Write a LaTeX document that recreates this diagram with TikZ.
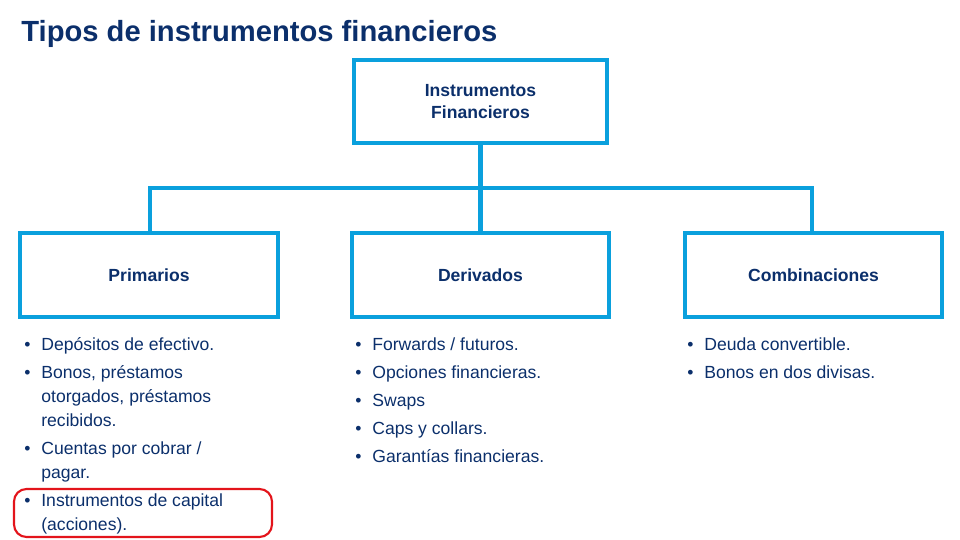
\documentclass[tikz,border=0pt]{standalone}
\usepackage{fontspec}
\setmainfont{Liberation Sans}
\usepackage{xcolor}
\definecolor{tiposDark}{HTML}{0B2F6B}
\definecolor{tiposCyan}{HTML}{0AA0DD}
\definecolor{tiposText}{HTML}{0B2F6B}
\definecolor{tiposRed}{HTML}{E3141B}
\usetikzlibrary{positioning}
\tikzset{
    box/.style={
        draw=tiposCyan,
        line width=2.3pt,
        fill=white,
        rectangle,
        align=center,
        font=\fontsize{10pt}{12.5pt}\selectfont\bfseries,
        text=tiposText
    },
    link/.style={
        draw=tiposCyan,
        line width=2.3pt
    },
    item/.style={
        anchor=base west,
        inner sep=0pt,
        font=\fontsize{10pt}{13.6pt}\selectfont,
        text=tiposText
    }
}
\newcommand{\bul}[3]{% name, x, y (first line)
    \node[item] (#1b) at (#2-0.34,#3) {•};}
\begin{document}
\begin{tikzpicture}
    \useasboundingbox (0,0) rectangle (19.2,10.8);
    % Title
    \node[anchor=west, inner sep=0pt, font=\fontsize{16.6pt}{18pt}\selectfont\bfseries, text=tiposDark] (title) at (0.42,10.12) {Tipos de instrumentos financieros};
    % Boxes
    \node[box, minimum width=5.06cm, minimum height=1.66cm] (root) at (9.61,8.77) {Instrumentos\\Financieros};
    \node[box, minimum width=5.16cm, minimum height=1.68cm] (prim) at (2.98,5.3) {Primarios};
    \node[box, minimum width=5.14cm, minimum height=1.68cm] (deri) at (9.61,5.3) {Derivados};
    \node[box, minimum width=5.14cm, minimum height=1.68cm] (comb) at (16.27,5.3) {Combinaciones};
    % Connectors
    \coordinate (bus) at (9.61,7.04);
    \draw[link] (root.south) -- (deri.north);
    \draw[link] (prim.north -| 3.0,0) |- (bus) -| (comb.north -| 16.24,0);
    % Primarios list
    \bul{pb1}{0.82}{3.78} \node[item] (p1) at (0.82,3.78) {Depósitos de efectivo.};
    \bul{pb2}{0.82}{3.22} \node[item] (p2a) at (0.82,3.22) {Bonos, préstamos};
    \node[item] (p2b) at (0.82,2.74) {otorgados, préstamos};
    \node[item] (p2c) at (0.82,2.26) {recibidos.};
    \bul{pb3}{0.82}{1.70} \node[item] (p3a) at (0.82,1.70) {Cuentas por cobrar /};
    \node[item] (p3b) at (0.82,1.22) {pagar.};
    \bul{pb4}{0.82}{0.66} \node[item] (p4a) at (0.82,0.66) {Instrumentos de capital};
    \node[item] (p4b) at (0.82,0.18) {(acciones).};
    % Derivados list
    \bul{db1}{7.44}{3.78} \node[item] (d1) at (7.44,3.78) {Forwards / futuros.};
    \bul{db2}{7.44}{3.22} \node[item] (d2) at (7.44,3.22) {Opciones financieras.};
    \bul{db3}{7.44}{2.66} \node[item] (d3) at (7.44,2.66) {Swaps};
    \bul{db4}{7.44}{2.10} \node[item] (d4) at (7.44,2.10) {Caps y collars.};
    \bul{db5}{7.44}{1.54} \node[item] (d5) at (7.44,1.54) {Garantías financieras.};
    % Combinaciones list
    \bul{cb1}{14.08}{3.78} \node[item] (c1) at (14.08,3.78) {Deuda convertible.};
    \bul{cb2}{14.08}{3.22} \node[item] (c2) at (14.08,3.22) {Bonos en dos divisas.};
    % Highlight
    \draw[tiposRed, line width=1.2pt, rounded corners=2.5mm] (0.28,0.06) rectangle (5.44,1.02);
\end{tikzpicture}
\end{document}
